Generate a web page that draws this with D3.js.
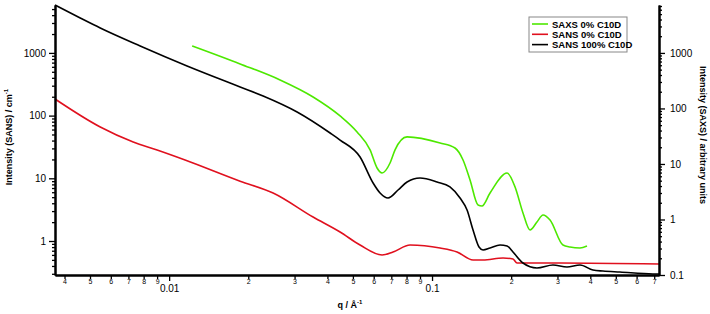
<!DOCTYPE html>
<html>
<head>
<meta charset="utf-8">
<script src="https://cdnjs.cloudflare.com/ajax/libs/d3/7.8.5/d3.min.js"></script>
<style>
  body { margin: 0; background: #fff; }
  svg { font-family: "Liberation Sans", Arial, sans-serif; }
</style>
</head>
<body>
<svg id="chart" width="710" height="314"></svg>
<script>
// q values (1/A) and intensities
var saxsQ = [0.01223,0.01862,0.02642,0.03528,0.04469,0.05186,0.05812,0.06179,0.06455,0.06923,0.07233,0.08035,0.1073,0.1223,0.1312,0.1395,0.1496,0.1549,0.1662,0.1929,0.2069,0.2218,0.2359,0.2507,0.2643,0.2811,0.3148,0.3347,0.3654,0.3885];
var saxs0 = [1337,634,326,161,73.3,37.7,17.9,8.47,6.88,10.4,17.9,30.7,23.9,19.4,11.8,5.15,1.82,1.75,3.0,6.88,3.85,1.31,0.647,0.902,1.205,0.98,0.347,0.320,0.307,0.333];

var sans0Q = [0.00368,0.00547,0.0073,0.009,0.0115,0.01862,0.02486,0.03528,0.04469,0.05324,0.06455,0.07107,0.0825,0.1073,0.1245,0.1432,0.1563,0.1862,0.2032,0.2105,0.3067,0.730];
var sans0 = [184,65.8,37.9,28.3,19.6,9.0,5.83,2.41,1.39,0.863,0.598,0.668,0.863,0.773,0.668,0.498,0.498,0.536,0.516,0.446,0.446,0.430];

var sans100Q = [0.00368,0.00459,0.00547,0.00776,0.0117,0.01862,0.02278,0.03067,0.04095,0.04469,0.05324,0.05968,0.06343,0.06802,0.07425,0.08035,0.0900,0.1045,0.1170,0.1278,0.1359,0.1432,0.1509,0.1563,0.1662,0.1814,0.1929,0.2032,0.2218,0.2507,0.2884,0.3261,0.3654,0.4094,0.4468,0.5185,0.6924,0.730];
var sans100 = [5800,3603,2495,1288,618,286,205,114,52.8,40.8,21.9,8.41,5.83,4.85,6.51,8.73,10.1,8.73,7.27,4.85,3.12,1.50,0.802,0.719,0.773,0.863,0.832,0.668,0.446,0.371,0.414,0.385,0.414,0.345,0.332,0.320,0.298,0.298];

var seriesNames = ["SAXS 0% C10D", "SANS 0% C10D", "SANS 100% C10D"];
var seriesColors = ["#4de800", "#e0101e", "#000000"];

var xMajor = [0.01, 0.1];
var xMinor = [0.004,0.005,0.006,0.007,0.008,0.009,0.02,0.03,0.04,0.05,0.06,0.07,0.08,0.09,0.2,0.3,0.4,0.5,0.6,0.7];
var leftMajor = [1, 10, 100, 1000];
var rightMajor = [0.1, 1, 10, 100, 1000];

var svg = d3.select("#chart");
var margin = {top: 5, right: 51, bottom: 39, left: 55};
var W = 710, H = 314;

var x = d3.scaleLog().domain([0.00368, 0.730]).range([margin.left, W - margin.right]);
var yL = d3.scaleLog().domain([0.287, 5808]).range([H - margin.bottom, margin.top]);
var yR = d3.scaleLog().domain([0.1, 7300]).range([H - margin.bottom, margin.top]);

function minorTicks(lo, hi) {
    var out = [];
    for (var e = -4; e <= 4; e++) {
        for (var k = 2; k <= 9; k++) {
            var v = k * Math.pow(10, e);
            if (v >= lo && v <= hi) out.push(v);
        }
    }
    return out;
}

var plot = svg.append("g");
function drawSeries(qs, vs, yScale, color) {
    var pts = qs.map(function(q, i){ return [q, vs[i]]; });
    var line = d3.line()
        .x(function(d){ return x(d[0]); })
        .y(function(d){ return yScale(d[1]); })
        .curve(d3.curveMonotoneX);
    plot.append("path")
        .attr("d", line(pts))
        .attr("fill", "none")
        .attr("stroke", color)
        .attr("stroke-width", 1.6);
}
drawSeries(sans0Q, sans0, yL, seriesColors[1]);
drawSeries(sans100Q, sans100, yL, seriesColors[2]);
drawSeries(saxsQ, saxs0, yR, seriesColors[0]);

// axes
var bottom = H - margin.bottom;
var xMajAxis = d3.axisBottom(x).tickValues(xMajor).tickSize(6).tickSizeOuter(0)
    .tickFormat(function(d){ return d === 0.01 ? "0.01" : "0.1"; });
var xMinAxis = d3.axisBottom(x).tickValues(xMinor).tickSize(4).tickSizeOuter(0).tickFormat(function(d){
    return String(Math.round(d / Math.pow(10, Math.floor(Math.log10(d) + 1e-9))));
});
var gxMin = svg.append("g").attr("transform", "translate(0," + bottom + ")").call(xMinAxis);
gxMin.selectAll("text").attr("font-size", 7).attr("dy", "0.3em").attr("y", 7);
var gxMaj = svg.append("g").attr("transform", "translate(0," + bottom + ")").call(xMajAxis);
gxMaj.selectAll("text").attr("font-size", 10).attr("y", 10);

var lMinAxis = d3.axisLeft(yL).tickValues(minorTicks(0.287, 5808)).tickSize(3).tickSizeOuter(0).tickFormat("");
var lMajAxis = d3.axisLeft(yL).tickValues(leftMajor).tickSize(6).tickSizeOuter(0).tickFormat(d3.format("d"));
svg.append("g").attr("transform", "translate(" + margin.left + ",0)").call(lMinAxis);
var gl = svg.append("g").attr("transform", "translate(" + margin.left + ",0)").call(lMajAxis);
gl.selectAll("text").attr("font-size", 10).attr("x", -9);

var right = W - margin.right;
var rMinAxis = d3.axisRight(yR).tickValues(minorTicks(0.1, 7300)).tickSize(3).tickSizeOuter(0).tickFormat("");
var rMajAxis = d3.axisRight(yR).tickValues(rightMajor).tickSize(6).tickSizeOuter(0)
    .tickFormat(function(d){ return d < 1 ? "0.1" : d3.format("d")(d); });
svg.append("g").attr("transform", "translate(" + right + ",0)").call(rMinAxis);
var gr = svg.append("g").attr("transform", "translate(" + right + ",0)").call(rMajAxis);
gr.selectAll("text").attr("font-size", 10).attr("x", 11);

svg.selectAll(".domain").attr("stroke-width", 2);
svg.selectAll(".tick line").attr("stroke-width", 1.3);
svg.selectAll(".tick text").attr("fill", "#000");

// axis titles
svg.append("text")
    .attr("transform", "translate(12,137) rotate(-90)")
    .attr("text-anchor", "middle")
    .attr("font-size", 9).attr("font-weight", "bold")
    .html("Intensity (SANS) / cm<tspan dy='-4' font-size='6'>-1</tspan>");
svg.append("text")
    .attr("transform", "translate(700,135) rotate(90)")
    .attr("text-anchor", "middle")
    .attr("font-size", 9).attr("font-weight", "bold")
    .text("Intensity (SAXS) / arbitrary units");
svg.append("text")
    .attr("x", 350).attr("y", 308)
    .attr("text-anchor", "middle")
    .attr("font-size", 9).attr("font-weight", "bold")
    .html("q / Å<tspan dy='-4' font-size='6'>-1</tspan>");

// legend
var legend = svg.append("g").attr("transform", "translate(529,17)");
legend.append("rect").attr("width", 98).attr("height", 35)
    .attr("fill", "#fff").attr("stroke", "#888").attr("stroke-width", 1);
seriesNames.forEach(function(name, i){
    var yy = 7 + i * 10.3;
    legend.append("line").attr("x1", 3).attr("x2", 19).attr("y1", yy).attr("y2", yy)
        .attr("stroke", seriesColors[i]).attr("stroke-width", 1.6);
    legend.append("text").attr("x", 23).attr("y", yy + 3.5)
        .attr("font-size", 9.5).attr("font-weight", "bold").text(name);
});
</script>
</body>
</html>
